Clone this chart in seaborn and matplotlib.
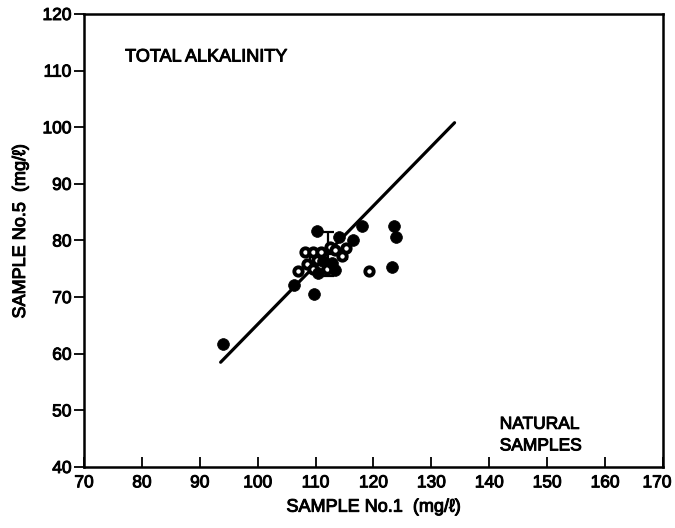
import matplotlib
matplotlib.use("Agg")
import matplotlib.pyplot as plt
import matplotlib.patheffects as pe
import matplotlib.transforms as mtrans
import seaborn as sns
import pandas as pd

# Total alkalinity: laboratory results, sample No.1 vs sample No.5 (mg/l)
filled_x = [94.0, 106.3, 109.7, 110.3, 110.5, 113.3, 114.0, 116.4, 118.0, 123.2, 123.6, 123.8, 111.3, 112.8]
filled_y = [61.7, 72.2, 70.5, 81.6, 74.2, 74.8, 80.6, 80.1, 82.5, 75.3, 82.6, 80.7, 76.3, 76.1]

open_x = [108.2, 109.6, 111.0, 112.5, 113.3, 108.6, 106.9, 109.5, 112.0, 119.2, 110.2, 114.6, 115.2]
open_y = [78.0, 78.0, 78.0, 78.9, 78.3, 75.9, 74.6, 75.0, 75.0, 74.6, 76.6, 77.2, 78.6]

# Mean with standard deviation
mean_x, mean_y = [112.2], [77.6]
sd_x, sd_y = [3.2], [3.9]

# Fitted line
line_x = [93.6, 134.0]
line_y = [58.5, 100.8]

x_ticks = [70, 80, 90, 100, 110, 120, 130, 140, 150, 160, 170]
y_ticks = [40, 50, 60, 70, 80, 90, 100, 110, 120]

sns.set_theme(style="ticks")
plt.rcParams["font.family"] = ["Liberation Sans", "DejaVu Sans"]

fig = plt.figure(figsize=(6.75, 5.28), dpi=100)
ax = fig.add_axes([84 / 675, 1 - 467 / 528, (663 - 84) / 675, (467 - 14) / 528])

df_filled = pd.DataFrame({"x": filled_x, "y": filled_y})
df_open = pd.DataFrame({"x": open_x, "y": open_y})
df_line = pd.DataFrame({"x": line_x, "y": line_y})

sns.lineplot(data=df_line, x="x", y="y", color="black", linewidth=2.3, sort=False, ax=ax)
ax.errorbar(mean_x, mean_y, xerr=sd_x, yerr=sd_y, fmt="none", ecolor="black",
            elinewidth=1.6, capsize=4, capthick=1.6, zorder=2)
sns.scatterplot(data=df_open, x="x", y="y", s=36, facecolor="white", edgecolor="black",
                linewidth=2.8, ax=ax, zorder=3)
sns.scatterplot(data=df_filled, x="x", y="y", s=72, color="black", edgecolor="black",
                linewidth=0.5, ax=ax, zorder=4)

ax.set_xlim(70, 170)
ax.set_ylim(40, 120)
ax.set_xticks(x_ticks)
ax.set_yticks(y_ticks)
ax.tick_params(axis="x", direction="in", length=7, width=1.3, labelsize=12.5, pad=6, colors="black")
ax.tick_params(axis="y", direction="out", length=7, width=1.3, labelsize=12.5, pad=2, colors="black")
for s in ax.spines.values():
    s.set_linewidth(1.8)
    s.set_color("black")

# keep the last x tick label inside the canvas
last = ax.get_xticklabels()[-1]
last.set_transform(last.get_transform() + mtrans.ScaledTranslation(-6 / 100, 0, fig.dpi_scale_trans))

ax.set_xlabel("SAMPLE No.1  (mg/ℓ)", fontsize=13, labelpad=6, color="black")
ax.set_ylabel("SAMPLE No.5  (mg/ℓ)", fontsize=13, labelpad=8, color="black")
ax.yaxis.set_label_coords(-0.095, 0.52)

ax.text(77.1, 112.4, "TOTAL ALKALINITY", fontsize=13, ha="left", va="center", color="black")
ax.text(141.8, 42.4, "NATURAL\nSAMPLES", fontsize=12.5, ha="left", va="bottom",
        linespacing=1.55, color="black")

# heavier print-like strokes on all text
stroke = [pe.withStroke(linewidth=0.7, foreground="black")]
for t in ax.texts + ax.get_xticklabels() + ax.get_yticklabels() + [ax.xaxis.label, ax.yaxis.label]:
    t.set_path_effects(stroke)

fig.savefig("out.png", dpi=100)
